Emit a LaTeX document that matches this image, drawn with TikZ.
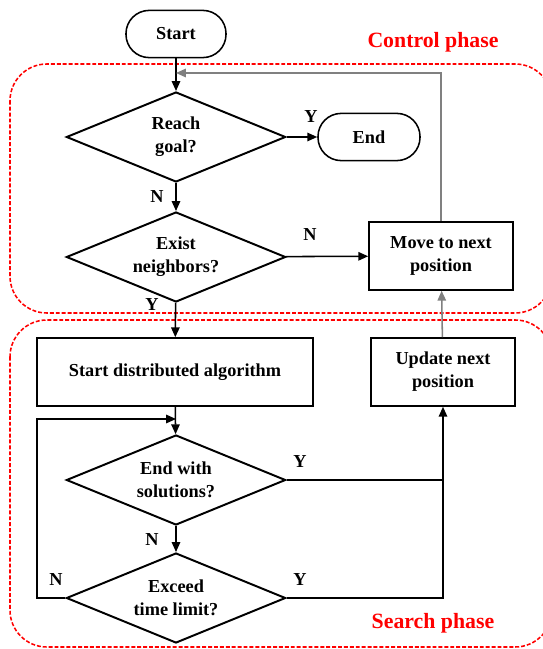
\documentclass[tikz,border=0pt]{standalone}
\usepackage{fontspec}
\setmainfont{Liberation Serif}
\usetikzlibrary{shapes.geometric,arrows.meta}

\tikzset{
  term/.style={draw,line width=1.1pt,rounded corners=0.58cm,minimum width=2.5cm,minimum height=1.18cm},
  decide/.style={draw,diamond,aspect=2.4,line width=1.4pt,minimum width=5.48cm,minimum height=2.25cm,inner sep=0pt,align=center},
  proc/.style={draw,line width=1.1pt,minimum width=3.6cm,minimum height=1.7cm,align=center},
  phase/.style={red,line width=1.1pt,dash pattern=on 2.8pt off 1.4pt,rounded corners=0.92cm},
  phasename/.style={red,font=\fontsize{15.5}{18}\selectfont\bfseries},
  arr/.style={line width=1.1pt,-{Triangle[length=7pt,width=6pt]}},
  link/.style={line width=1.1pt},
}

\begin{document}
\begin{tikzpicture}[x=0.025cm,y=-0.025cm,font=\fontsize{13}{16.4}\selectfont\bfseries]
\useasboundingbox (0,0) rectangle (542,649);

\draw[phase] (10,64) rectangle (552,313);
\draw[phase] (10,320) rectangle (552,647);
\node[phasename] (ctrl) at (433,42) {Control phase};
\node[phasename] (search) at (433,623) {Search phase};

\node[term] (start) at (176,34) {Start};
\node[decide] (goal) at (176,137) {Reach\\goal?};
\node[term,minimum width=2.55cm] (fin) at (369,137) {End};
\node[decide] (exist) at (176,257) {Exist\\neighbors?};
\node[proc] (move) at (441,256) {Move to next\\position};
\node[proc,minimum width=6.9cm] (algo) at (175,372) {Start distributed algorithm};
\node[proc] (update) at (443,372) {Update next\\position};
\node[decide] (sol) at (176,480) {End with\\solutions?};
\node[decide] (limit) at (176,598) {Exceed\\time limit?};

\coordinate (back) at (176,73);
\coordinate (loopin) at (176,419);
\coordinate (loopout) at (37,598);

\draw[arr] (start) -- (goal);
\draw[arr] (goal) -- (fin);
\draw[arr] (goal) -- (exist);
\draw[arr] (exist) -- (move);
\draw[arr] (exist) -- (algo);
\draw[arr] (algo) -- (sol);
\draw[arr] (sol) -- (limit);
\draw[link] (sol.east) -- (sol.east -| update.south);
\draw[arr] (limit.east) -| (update.south);
\draw[arr] (limit.west) -- (loopout) |- (loopin);
\draw[arr,gray] (update) -- (move);
\draw[arr,gray] (move.north) |- (back);

\node (y1) at (311,117) {Y};
\node (n1) at (157,197) {N};
\node (n2) at (310,235) {N};
\node (y2) at (152,305) {Y};
\node (y3) at (300,462) {Y};
\node (n3) at (152,540) {N};
\node (y4) at (300,580) {Y};
\node (n4) at (56,580) {N};
\end{tikzpicture}
\end{document}
